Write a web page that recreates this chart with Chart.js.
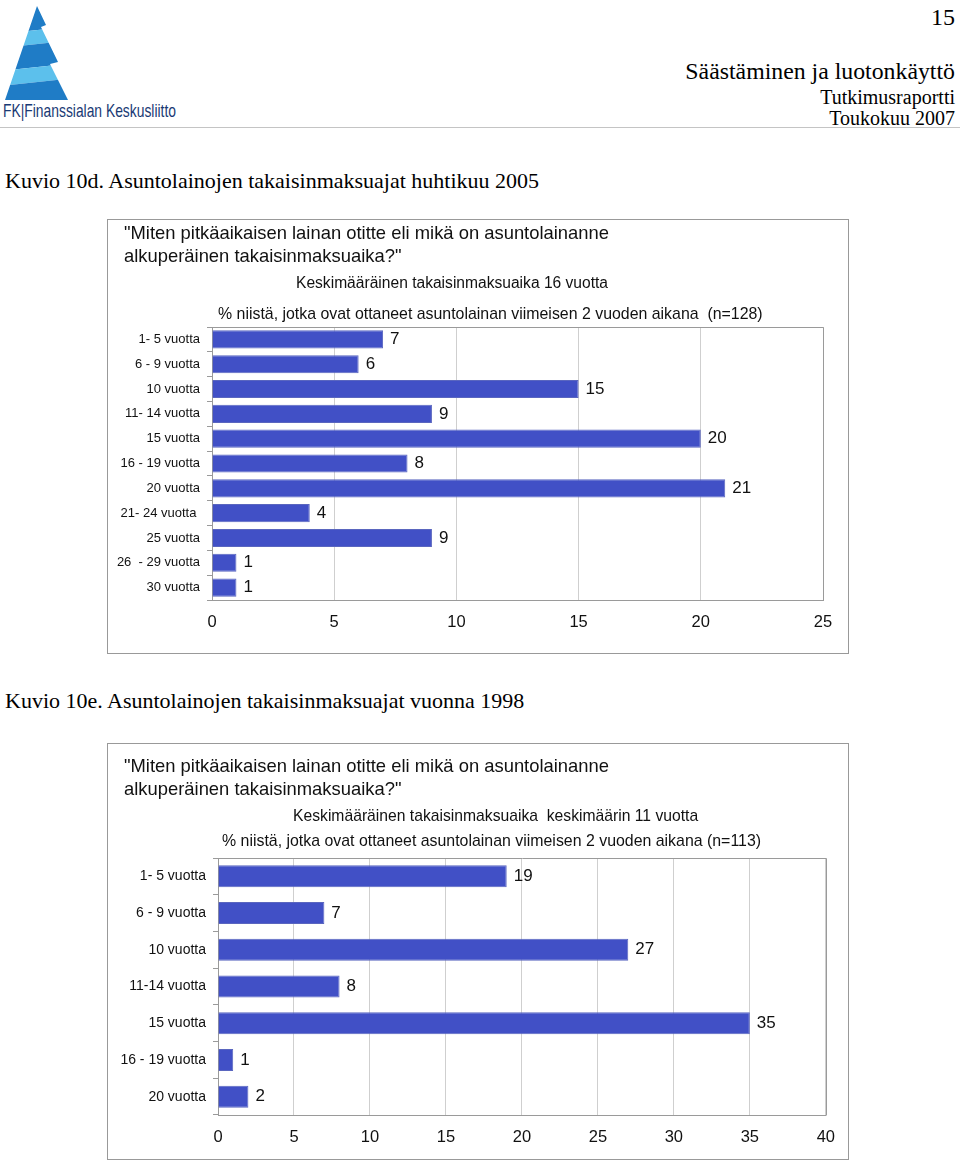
<!DOCTYPE html>
<html><head><meta charset="utf-8">
<script src="https://cdn.jsdelivr.net/npm/chart.js@4.4.1/dist/chart.umd.min.js"></script>
<style>
html,body{margin:0;padding:0;background:#fff;}
body{width:960px;height:1162px;position:relative;overflow:hidden;}
.t{position:absolute;white-space:pre;line-height:20px;color:#111;}
.serif{font-family:"Liberation Serif","Times New Roman",serif;color:#000;}
.sans{font-family:"Liberation Sans",Arial,sans-serif;}
.box{position:absolute;border:1px solid #999;}
.box canvas{position:absolute;left:0;top:0;}
</style></head><body>

<svg style="position:absolute;left:0;top:0" width="190" height="126" viewBox="0 0 190 126">
  <defs><clipPath id="tri"><polygon points="37,6 46,25 41,27 58,62 50,64 68,100 5,100"/></clipPath></defs>
  <g clip-path="url(#tri)">
    <polygon points="0,0 75,0 75,26 0,34" fill="#1f7cc6"/>
    <polygon points="0,34 75,26 75,40 0,48" fill="#5cc0ec"/>
    <polygon points="0,48 75,40 75,63 0,71" fill="#1f7cc6"/>
    <polygon points="0,71 75,63 75,78 0,86" fill="#5cc0ec"/>
    <polygon points="0,86 75,78 75,101 0,101" fill="#1f7cc6"/>
  </g>
  <text x="3" y="117" font-family="Liberation Sans Narrow, Liberation Sans, Arial" font-size="19" textLength="173" lengthAdjust="spacingAndGlyphs" fill="#1a3a74">FK|Finanssialan Keskusliitto</text>
</svg>

<div class="t serif" style="right:5px;top:4px;font-size:24px;line-height:26px;">15</div>
<div class="t serif" style="right:5px;top:58px;font-size:23.8px;line-height:26px;">Säästäminen ja luotonkäyttö</div>
<div class="t serif" style="right:5px;top:86px;font-size:20px;line-height:22px;">Tutkimusraportti</div>
<div class="t serif" style="right:5px;top:107px;font-size:20px;line-height:22px;">Toukokuu 2007</div>
<div style="position:absolute;left:0;top:127px;width:960px;height:1px;background:#c4c4c4;"></div>

<div class="t serif" style="left:5px;top:168px;font-size:22px;line-height:26px;">Kuvio 10d. Asuntolainojen takaisinmaksuajat huhtikuu 2005</div>
<div class="t serif" style="left:5px;top:688px;font-size:22px;line-height:26px;">Kuvio 10e. Asuntolainojen takaisinmaksuajat vuonna 1998</div>

<div class="box" style="left:107px;top:219px;width:740px;height:433px;"><canvas id="c1" width="740" height="433"></canvas></div>
<div class="t sans" style="left:124px;top:222px;font-size:18.4px;line-height:22px;">"Miten pitkäaikaisen lainan otitte eli mikä on asuntolainanne</div>
<div class="t sans" style="left:124px;top:245px;font-size:18.4px;line-height:22px;">alkuperäinen takaisinmaksuaika?"</div>
<div class="t sans" style="left:296px;top:273px;font-size:15.6px;">Keskimääräinen takaisinmaksuaika 16 vuotta</div>
<div class="t sans" style="left:218px;top:304px;font-size:15.9px;">% niistä, jotka ovat ottaneet asuntolainan viimeisen 2 vuoden aikana  (n=128)</div>

<div class="box" style="left:107px;top:743px;width:740px;height:415px;"><canvas id="c2" width="740" height="415"></canvas></div>
<div class="t sans" style="left:124px;top:755px;font-size:18.4px;line-height:22px;">"Miten pitkäaikaisen lainan otitte eli mikä on asuntolainanne</div>
<div class="t sans" style="left:124px;top:778px;font-size:18.4px;line-height:22px;">alkuperäinen takaisinmaksuaika?"</div>
<div class="t sans" style="left:293px;top:806px;font-size:15.7px;">Keskimääräinen takaisinmaksuaika  keskimäärin 11 vuotta</div>
<div class="t sans" style="left:222px;top:831px;font-size:15.9px;">% niistä, jotka ovat ottaneet asuntolainan viimeisen 2 vuoden aikana (n=113)</div>

<script>
// ---- data ----
const categories2005 = ["1- 5 vuotta","6 - 9 vuotta","10 vuotta","11- 14 vuotta","15 vuotta","16 - 19 vuotta","20 vuotta","21- 24 vuotta ","25 vuotta","26  - 29 vuotta","30 vuotta"];
const values2005 = [7, 6, 15, 9, 20, 8, 21, 4, 9, 1, 1];
const categories1998 = ["1- 5 vuotta","6 - 9 vuotta","10 vuotta","11-14 vuotta","15 vuotta","16 - 19 vuotta","20 vuotta"];
const values1998 = [19, 7, 27, 8, 35, 1, 2];
const axisMax2005 = 25;
const axisMax1998 = 40;
const tickStep = 5;

const FONT = '"Liberation Sans", Arial, sans-serif';

const framePlugin = {
  id: 'frameAndLabels',
  afterDatasetsDraw(chart) {
    const {ctx, chartArea: a} = chart;
    ctx.save();
    ctx.strokeStyle = '#9a9a9a';
    ctx.lineWidth = 1;
    ctx.beginPath();
    ctx.moveTo(Math.round(a.left) + 0.5, Math.round(a.top) + 0.5);
    ctx.lineTo(Math.round(a.right) + 0.5, Math.round(a.top) + 0.5);
    ctx.lineTo(Math.round(a.right) + 0.5, Math.round(a.bottom) + 0.5);
    ctx.stroke();
    const meta = chart.getDatasetMeta(0);
    const data = chart.data.datasets[0].data;
    ctx.fillStyle = '#111';
    ctx.font = '17px ' + FONT;
    ctx.textAlign = 'left';
    ctx.textBaseline = 'middle';
    meta.data.forEach((bar, i) => {
      ctx.fillText(String(data[i]), bar.x + 7, bar.y);
    });
    ctx.restore();
  }
};

function makeChart(id, cats, vals, max, cfg) {
  return new Chart(document.getElementById(id), {
    type: 'bar',
    data: {
      labels: cats,
      datasets: [{
        data: vals,
        backgroundColor: '#4150c6',
        borderColor: '#5a66bf',
        borderWidth: 1,
        barPercentage: cfg.bp,
        categoryPercentage: 1
      }]
    },
    options: {
      indexAxis: 'y',
      responsive: false,
      animation: false,
      devicePixelRatio: 1,
      layout: {padding: {left: 0, right: cfg.padR, top: cfg.padT, bottom: 0}},
      plugins: {legend: {display: false}, tooltip: {enabled: false}},
      scales: {
        x: {
          min: 0, max: max,
          ticks: {stepSize: tickStep, font: {family: FONT, size: 16.5}, color: '#111', padding: 13},
          grid: {color: '#cfcfcf', drawTicks: false},
          border: {color: '#9a9a9a'},
          afterFit(s) { s.height = cfg.bottomH; }
        },
        y: {
          ticks: {font: {family: FONT, size: cfg.yFont}, color: '#111', padding: 7, autoSkip: false},
          grid: {drawOnChartArea: false, drawTicks: true, tickLength: 5, color: '#9a9a9a', offset: true},
          border: {color: '#9a9a9a'},
          afterFit(s) { s.width = cfg.leftW; }
        }
      }
    },
    plugins: [framePlugin]
  });
}

makeChart('c1', categories2005, values2005, axisMax2005, {bp: 0.73, padR: 25, padT: 107, bottomH: 53, leftW: 104, yFont: 13});
makeChart('c2', categories1998, values1998, axisMax1998, {bp: 0.6, padR: 21, padT: 114, bottomH: 44, leftW: 110, yFont: 14});
</script>
</body></html>
